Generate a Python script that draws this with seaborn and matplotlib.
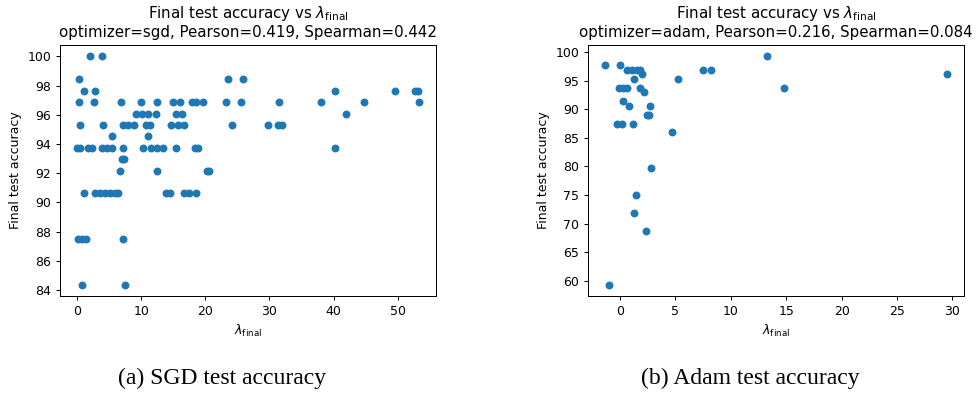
import numpy as np
import pandas as pd
import matplotlib
matplotlib.use("Agg")
import matplotlib.pyplot as plt
import seaborn as sns

# ---------------- data ----------------
sgd_lambda = [2.0, 3.9,
              0.35, 23.5, 25.9,
              1.0, 2.75, 40.2, 49.5, 52.7, 53.1,
              0.36, 2.65, 6.8, 10.0, 12.4, 15.0, 16.0, 17.9, 18.6, 19.7, 23.2, 25.6, 31.5, 38.1, 44.7, 53.3,
              9.2, 10.1, 11.1, 12.3, 15.5, 16.3, 41.9,
              0.47, 4.1, 7.2, 8.0, 8.8, 10.75, 11.4, 14.6, 15.8, 16.7, 24.1, 29.7, 31.3, 31.9,
              5.5, 11.0,
              0.0, 0.47, 1.76, 2.29, 3.85, 4.6, 5.4, 7.2, 10.3, 11.6, 12.4, 13.4, 15.4, 18.4, 18.9, 40.2,
              7.0, 7.3,
              6.7, 12.4, 20.2, 20.6,
              1.14, 2.8, 3.6, 4.4, 5.1, 5.9, 6.4, 13.9, 14.5, 16.6, 17.5, 18.5,
              0.2, 0.73, 1.36, 7.1,
              0.83, 7.4]
sgd_acc = ([100.0] * 2 + [98.44] * 3 + [97.66] * 6 + [96.88] * 16 + [96.09] * 7 +
           [95.31] * 14 + [94.53] * 2 + [93.75] * 16 + [92.97] * 2 + [92.19] * 4 +
           [90.62] * 12 + [87.5] * 4 + [84.38] * 2)

adam_lambda = [-1.35, 0.0,
               0.6, 1.05, 1.5, 1.8, 7.5, 8.25,
               1.95, 29.5,
               1.3, 5.25,
               -0.06, 0.3, 0.6, 1.8, 14.8,
               2.16,
               0.3,
               0.84, 2.7,
               2.4, 2.65,
               -0.3, 0.15, 1.14,
               4.65,
               2.8,
               1.4,
               1.3,
               2.34,
               -1.0,
               13.3]
adam_acc = ([97.66] * 2 + [96.88] * 6 + [96.09] * 2 + [95.31] * 2 + [93.75] * 5 +
            [92.97] + [91.41] + [90.62] * 2 + [89.06] * 2 + [87.5] * 3 + [85.94] +
            [79.69] + [75.0] + [71.88] + [68.75] + [59.38] + [99.22])

titles = ["Final test accuracy vs $\\lambda_{\\mathrm{final}}$\noptimizer=sgd, Pearson=0.419, Spearman=0.442",
          "Final test accuracy vs $\\lambda_{\\mathrm{final}}$\noptimizer=adam, Pearson=0.216, Spearman=0.084"]
captions = ["(a) SGD test accuracy", "(b) Adam test accuracy"]
xlabel = "$\\lambda_{\\mathrm{final}}$"
ylabel = "Final test accuracy"

# ---------------- plot ----------------
DPI = 90
fig = plt.figure(figsize=(978 / DPI, 398 / DPI), dpi=DPI)
ax1 = fig.add_axes([60 / 978, 1 - 296 / 398, 376 / 978, 251 / 398])
ax2 = fig.add_axes([588 / 978, 1 - 296 / 398, 376 / 978, 251 / 398])

df1 = pd.DataFrame({"lam": sgd_lambda, "acc": sgd_acc})
df2 = pd.DataFrame({"lam": adam_lambda, "acc": adam_acc})

for ax, df, title in [(ax1, df1, titles[0]), (ax2, df2, titles[1])]:
    sns.scatterplot(data=df, x="lam", y="acc", ax=ax, color="#1f77b4",
                    s=40, linewidth=0, alpha=1)
    ax.set_title(title, fontsize=12)
    ax.set_xlabel(xlabel, fontsize=10)
    ax.set_ylabel(ylabel, fontsize=10)
    ax.tick_params(labelsize=10)

ax1.set_yticks([84, 86, 88, 90, 92, 94, 96, 98, 100])
ax2.set_yticks([60, 65, 70, 75, 80, 85, 90, 95, 100])
ax2.set_xticks([0, 5, 10, 15, 20, 25, 30])

fig.text(222 / 978, 1 - 378 / 398, captions[0], ha="center", va="center",
         fontsize=18.9, family="Liberation Serif")
fig.text(750 / 978, 1 - 378 / 398, captions[1], ha="center", va="center",
         fontsize=18.9, family="Liberation Serif")

fig.savefig("out.png", dpi=DPI)
